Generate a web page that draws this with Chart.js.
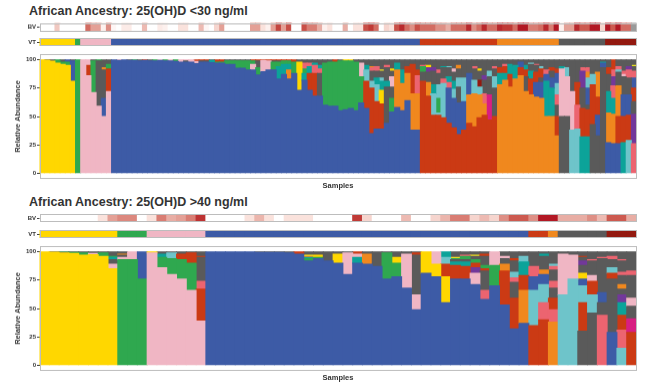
<!DOCTYPE html>
<html><head><meta charset="utf-8">
<style>
html,body{margin:0;padding:0;background:#fff;width:657px;height:382px;overflow:hidden}
canvas{position:absolute;left:0}
.h{position:absolute;left:29px;font:bold 12.5px "Liberation Sans",Arial,sans-serif;color:#333;white-space:nowrap;line-height:16px}
</style>
<script src="https://cdn.jsdelivr.net/npm/chart.js@4"></script>
</head><body>
<div class="h" style="top:3px">African Ancestry: 25(OH)D &lt;30 ng/ml</div>
<div class="h" style="top:194px">African Ancestry: 25(OH)D &gt;40 ng/ml</div>
<canvas id="bvA"></canvas><canvas id="vtA"></canvas><canvas id="mainA"></canvas>
<canvas id="bvB"></canvas><canvas id="vtB"></canvas><canvas id="mainB"></canvas>
<script>
const taxonColors={Y:"#FFD700",G:"#2FA84F",P:"#F0B6C4",B:"#3D5BA6",R:"#CB3A14",O:"#F0881E",D:"#5A5A5A",M:"#93190F",T:"#0CA399",C:"#6EC4CA",S:"#EC6470",V:"#72389A",H:"#D81E82",L:"#F2E41E"};
const tickValues=[0,25,50,75,100];
const vtGroups=["Y","G","P","B","R","O","D","M"];
const vtCountsLow=[7,1,6,60,15,12,9,6];
const vtCountsHigh=[8,3,6,33,2,1,5,3];
const bvLow=[0,0,0,2,0,0,0,0,0,5,3.5,3.5,.5,4,.3,0,.7,.7,0,0,2.5,0,0,.7,.5,0,0,1,1,0,0,2.5,.3,0,1.5,3.5,0,0,0,0,0,3.5,3.5,1,.5,3.5,6.5,3.5,6,0,0,6,4.5,4.5,3,.5,1,0,0,3,0,1,1,6,7,5,0,1.5,1,6,8,5,4,6,5,5,5,4,4,3,5,5,5,8,4,5,8,5,5,8,7,7,5,9,9,4.5,4.5,5,8,4.5,9,.5,3.5,3.5,8,5.5,5.5,9,9,1.5,9,5.5,9,5,5,null];
const bvHigh=[0,0,0,0,0,0,1,3.5,4.2,4.2,0,1,4.5,3,3.5,4.5,7.5,0,0,0,0,1,2.7,1,0,1,1,1,0,0,0,0,7,1.5,0,0,0,2.5,0,0,1.5,2.7,4.5,4.5,1.5,2.5,1.5,4,5.5,5.5,4,9,9,3,3,3,4,2.5,5.5,5.5,3];
const samplesLow=[
["Y",100],["Y",99.6,"D",.4],["Y",98.7,"D",1.3],["Y",97,"G",3],["Y",96,"G",2,"D",2],["Y",95,"G",3,"B",2],["Y",81,"B",18,"D",1],["G",100],
["P",100],["P",86,"R",9,"P",5],["P",71,"G",28,"D",1],["P",59,"D",40,"G",1],["P",50,"B",16,"D",25,"O",2,"D",7],["P",72,"R",20,"G",4,"D",4],
["B",100],["B",99.5,"P",.5],["B",100],["B",99.5,"D",.5],["B",99.5,"G",.5],["B",99,"D",1],["B",99.5,"R",.5],["B",99,"D",1],["B",99,"G",1],["B",99.5,"P",.5],["B",99,"G",1],["B",99,"P",1],["B",98.5,"G",1.5],["B",98,"P",2],["B",98,"D",1,"P",1],["B",98,"P",2],
["B",96.5,"P",2,"R",1.5],["B",98,"D",1,"R",1],["B",98,"D",1,"R",1],["B",97.5,"T",2,"D",.5],["B",97,"G",1,"R",2],["B",97,"G",1,"R",2],["B",96,"G",3,"D",1],["B",96,"G",3,"D",1],["B",92.5,"G",6.5,"D",1],["B",92.5,"G",6.5,"D",1],
["B",91,"G",8,"D",1],["B",91,"P",5,"G",3,"R",1],["B",86.5,"G",6.5,"D",6,"R",1],["B",89.5,"P",10,"R",.5],["B",91,"P",8,"R",1],["B",91,"G",7,"D",1,"R",1],["B",83,"T",11,"G",4,"D",1,"R",1],["B",87,"T",9,"G",3,"R",1],["B",83,"O",8,"T",5,"G",3,"R",1],["B",88,"G",10,"R",2],
["B",73,"Y",25,"D",2],["B",82,"T",6,"G",4,"S",5,"D",3],["B",73,"R",15,"T",6,"S",3,"D",3],["B",68,"R",20,"S",7,"T",2,"D",3],["B",68,"D",20,"S",4,"T",3,"D",5],
["B",60,"G",37,"D",3],["B",59,"G",39,"D",2],["B",59,"G",39,"R",2],["B",55,"G",44,"D",1],["B",56,"G",43,"Y",1],["B",57,"G",42,"Y",1],["B",55,"G",43,"D",2],["B",62,"G",23,"P",12,"D",3],
["B",57,"R",24,"C",10,"T",4,"D",5],["B",35,"R",40,"C",6,"D",9,"S",3,"O",1,"D",6],["B",39,"R",24,"C",15,"T",6,"D",6,"S",4,"D",6],["B",39,"R",22,"Y",12,"T",8,"C",3,"D",6,"L",1,"D",9],["B",44,"D",32,"T",5,"D",12,"S",2,"D",5],["B",54,"G",12,"D",10,"P",9,"D",5,"Y",2,"D",8],["B",58,"O",33,"T",6,"D",3],["B",55,"O",24,"T",12,"D",9],["B",64,"O",24,"R",6,"D",6],["B",38,"O",32,"R",26,"D",4],["B",38,"O",32,"S",16,"R",5,"D",9],
["R",81,"D",8,"G",5,"S",1,"D",5],["R",68,"O",12,"D",9,"V",4,"Y",2,"D",5],["R",51,"C",19,"T",8,"D",12,"V",3,"D",7],["R",51,"C",2,"G",13,"C",12,"D",10,"S",3,"D",9],["R",49,"C",30,"S",4,"D",10,"T",1,"D",6],["R",44,"B",31,"S",5,"T",5,"D",8,"C",1,"D",6],["R",40,"B",26,"C",8,"T",7,"D",8,"P",3,"D",8],["R",34,"B",28,"D",14,"C",8,"D",8,"O",3,"D",5],["R",38,"B",25,"C",21,"D",16],["R",44,"O",25,"B",19,"D",12],["R",41,"O",29,"C",12,"D",10,"S",2,"D",6],["R",49,"O",20,"C",7,"M",6,"D",8,"Y",2,"D",8],["R",51,"O",10,"S",9,"D",12,"V",4,"D",14],["R",47,"H",22,"D",16,"C",5,"D",10],["R",50,"D",25,"C",10,"D",7,"S",2,"D",6],
["O",78,"T",10,"R",5,"D",7],["O",82,"T",6,"R",6,"S",2,"D",4],["O",76,"R",11,"T",9,"D",4],["O",83,"T",12,"D",5],["O",86,"R",7,"B",5,"D",2],["O",72,"D",13,"R",6,"T",4,"D",5],["O",69,"R",14,"T",7,"D",6,"C",1,"D",3],["O",67,"B",13,"R",9,"D",6,"S",1,"D",4],["O",66,"B",14,"D",4,"R",8,"C",2,"D",6],["O",50,"T",31,"B",6,"S",4,"D",9],["O",50,"T",25,"B",9,"D",6,"R",3,"D",7],["O",33,"R",17,"D",10,"S",9,"C",10,"B",9,"R",4,"D",8],
["D",50,"P",42,"T",2,"D",6],["D",50,"P",35,"C",8,"D",7],["C",38,"P",34,"D",28],["C",39,"S",21,"R",20,"D",20],["T",32,"R",25,"D",18,"V",15,"S",3,"D",7],["T",32,"R",24,"D",4,"B",15,"C",9,"O",5,"S",4,"D",7],["D",43,"R",35,"C",9,"D",13],["D",33,"B",18,"R",16,"O",22,"D",11],["D",93,"B",4,"T",1,"D",2],
["B",27,"O",26,"T",19,"D",15,"R",6,"D",7],["B",26,"O",26,"T",14,"S",11,"V",8,"S",6,"R",9],["B",26,"R",24,"O",27,"D",12,"C",2,"S",3,"D",6],["T",27,"R",23,"B",19,"D",16,"P",2,"S",3,"D",10],["C",29,"R",22,"B",18,"D",15,"S",7,"V",3,"D",6],["S",26,"V",26,"D",11,"R",12,"B",9,"S",6,"D",4,"L",1,"D",5]
];
const samplesHigh=[
["Y",100],["Y",99.7,"D",.3],["Y",99,"D",.5,"G",.5],["Y",98.5,"G",1,"D",.5],["Y",97,"G",2,"D",1],["Y",97.5,"P",1,"D",1.5],["Y",96,"G",3,"D",1],["Y",85,"P",4,"D",4,"T",2,"G",1,"D",4],
["G",93,"P",2,"D",2,"O",1,"D",2],["G",93,"P",7],["G",76,"B",24],
["P",99,"Y",1],["P",86,"G",9,"T",3,"D",2],["P",80,"G",14,"C",5,"D",1],["P",76,"G",17,"R",5,"D",2],["P",66,"G",24,"R",9,"D",1],["P",39,"R",28,"S",7,"D",21,"R",1,"D",4],
["B",100],["B",100],["B",100],["B",100],["B",100],["B",99.5,"D",.5],["B",99.5,"D",.5],["B",99.5,"D",.5],["B",99,"D",1],["B",98,"R",2],["B",92,"G",2,"T",1,"O",1,"L",1,"D",3],["B",94,"G",1,"Y",2,"D",3],["B",92,"D",8],
["B",90,"Y",8,"D",2],["B",80,"P",19,"D",1],["B",90,"T",5,"P",3,"R",2],["B",89,"O",9,"D",2],["B",87,"D",13],["B",76,"G",23,"D",1],["B",78,"G",12,"Y",5,"D",5],["B",68,"P",30,"D",2],["B",49,"P",13,"D",35,"R",2,"D",1],["B",81,"Y",19],["B",78,"Y",11,"P",11],["B",55,"Y",23,"R",11,"C",6,"T",5],["B",76,"R",12,"T",3,"D",2,"G",1,"L",1,"D",5],["B",76,"R",11,"T",4,"D",2,"G",3,"S",1,"D",3],["B",71,"P",10,"V",5,"R",4,"G",3,"D",3,"L",1,"D",3],["B",58,"S",8,"D",17,"R",2,"G",3,"D",8,"R",2,"D",2],["B",70,"G",18,"P",12],["B",53,"R",30,"O",6,"D",5,"P",2,"D",4],["B",32,"R",27,"D",14,"S",4,"C",5,"D",10,"R",2,"D",6],["B",37,"O",29,"R",13,"T",12,"C",5,"D",4],
["R",35,"C",31,"B",12,"S",9,"D",13],["R",40,"S",15,"C",16,"B",9,"O",4,"D",12,"T",2,"D",2],["O",38,"S",11,"R",10,"D",9,"S",6,"D",10,"S",3,"C",2,"D",11],
["C",62,"P",36,"D",2],["C",76,"P",21,"D",3],["D",30,"R",25,"C",15,"B",6,"Y",5,"D",7,"V",4,"D",3,"R",1,"D",4],["D",46,"C",16,"R",12,"P",5,"D",13,"S",1,"D",7],["S",44,"D",11,"B",9,"D",30,"S",1,"D",5],
["B",29,"D",47,"R",5,"C",5,"D",7,"S",3,"D",4],["C",15,"S",16,"R",13,"T",11,"V",7,"D",5,"O",4,"D",8,"S",3,"D",10,"S",1,"D",7],["R",29,"H",12,"D",11,"P",7,"D",20,"S",4,"D",17]
];
const frameColor="#BDBDBD", textColor="#333";
const tickFont={family:"Liberation Sans",size:6,weight:"bold"}, titleFont={family:"Liberation Sans",size:7.5,weight:"bold"};
const bvStops=[[0,255,255,255],[1,250,226,220],[3.5,228,160,150],[5.5,205,90,80],[7,192,58,54],[9,178,24,36]];
const framePlugin={id:"frame",afterDatasetsDraw(c){const a=c.chartArea,g=c.ctx;g.save();g.strokeStyle=frameColor;g.lineWidth=1;g.strokeRect(Math.round(a.left)+.5,Math.round(a.top)+.5,Math.round(a.width)-1,Math.round(a.height)-1);g.restore();}};
function bvColor(v){
  if(v===null)return "#9A9A9A";
  let i=0;while(i<bvStops.length-2&&v>bvStops[i+1][0])i++;
  const a=bvStops[i],b=bvStops[i+1],t=(v-a[0])/(b[0]-a[0]);
  const m=k=>Math.round(a[k]+(b[k]-a[k])*t);
  return `rgb(${m(1)},${m(2)},${m(3)})`;
}
const LEFT=39.5,RIGHT=636.5;
function makeChart(id,top,height,plotTop,plotBottom,datasets,n,yOpts,xTitle){
  const el=document.getElementById(id);el.width=657;el.height=height;el.style.top=top+"px";el.style.width="657px";el.style.height=height+"px";
  new Chart(el,{type:"bar",plugins:[framePlugin],data:{labels:Array.from({length:n},(_,i)=>"S"+(i+1)),datasets},
    options:{responsive:false,animation:false,events:[],layout:{padding:{left:0,right:657-RIGHT,top:plotTop-top,bottom:xTitle?0:top+height-plotBottom}},
      plugins:{legend:{display:false},tooltip:{enabled:false},title:{display:false}},
      datasets:{bar:{barPercentage:1,categoryPercentage:1,borderWidth:0,inflateAmount:.5}},
      scales:{
        x:{stacked:true,offset:true,display:xTitle?true:false,grid:{display:false},border:{display:false},ticks:{display:false},
           title:xTitle?{display:true,text:xTitle,color:textColor,font:titleFont,padding:{top:0,bottom:0}}:undefined,
           afterFit(s){if(xTitle)s.height=top+height-plotBottom;}},
        y:Object.assign({stacked:true,grid:{drawOnChartArea:false,drawTicks:true,tickLength:2.5,color:"#444"},border:{display:false},afterFit(s){s.width=LEFT;s.paddingTop=0;s.paddingBottom=0;}},yOpts)
      }}});
}
function stackDatasets(samples){
  const depth=Math.max(...samples.map(s=>s.length/2)),out=[];
  for(let k=0;k<depth;k++){
    out.push({data:samples.map(s=>k*2<s.length?s[k*2+1]:null),backgroundColor:samples.map(s=>k*2<s.length?taxonColors[s[k*2]]:"#fff")});
  }
  return out;
}
function mainChart(id,top,plotTop,plotBottom,samples){
  makeChart(id,top,plotBottom+11-top,plotTop,plotBottom,stackDatasets(samples),samples.length,{
    min:-5,max:105,title:{display:true,text:"Relative Abundance",color:textColor,font:titleFont,padding:{top:13,bottom:0}},
    afterBuildTicks(s){s.ticks=tickValues.map(v=>({value:v}));},
    ticks:{color:textColor,font:tickFont,padding:1,autoSkip:false}
  },"Samples");
}
function stripChart(id,name,top,plotTop,plotBottom,colors){
  makeChart(id,top,plotBottom-top+2,plotTop,plotBottom,[{data:colors.map(()=>1),backgroundColor:colors}],colors.length,{
    min:0,max:1,afterBuildTicks(s){s.ticks=[{value:.5}];},
    ticks:{color:textColor,font:tickFont,padding:1,callback:()=>name,autoSkip:false}
  });
}
function vtColors(counts){const o=[];counts.forEach((c,i)=>{for(let k=0;k<c;k++)o.push(taxonColors[vtGroups[i]]);});return o;}
stripChart("bvA","BV",18,22.5,30.5,bvLow.map(bvColor));
stripChart("vtA","VT",34,38,46,vtColors(vtCountsLow));
mainChart("mainA",50,54,178.5,samplesLow);
stripChart("bvB","BV",210,214,222,bvHigh.map(bvColor));
stripChart("vtB","VT",226,230,238,vtColors(vtCountsHigh));
mainChart("mainB",242,246,370.5,samplesHigh);
</script>
</body></html>
